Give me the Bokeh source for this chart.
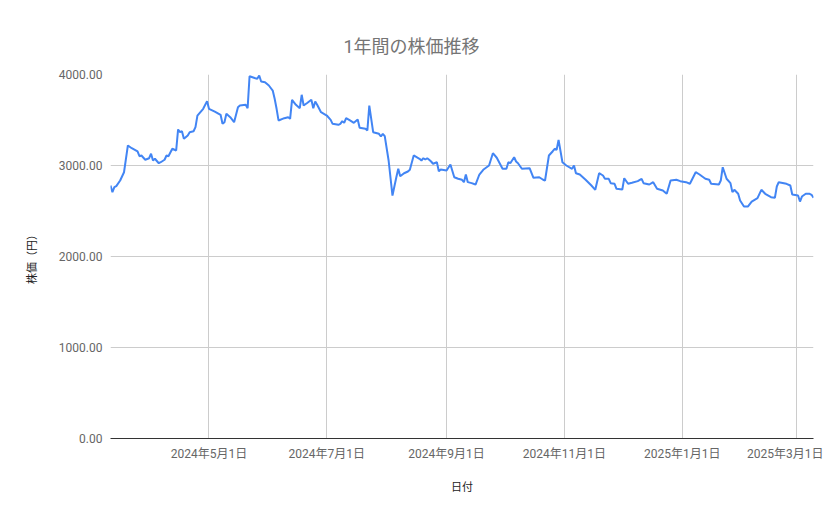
from datetime import datetime, timedelta
from bokeh.plotting import figure
from bokeh.models import Range1d, FixedTicker, NumeralTickFormatter
from bokeh.embed import file_html
from bokeh.resources import INLINE

start_date = datetime(2024, 3, 11)

# days after start_date
day_offsets = [0, 1, 2, 3, 5, 7, 9, 11, 14, 15, 16, 18, 20, 21, 22, 23, 25, 26, 28, 29,
               30, 32, 34, 35, 36, 37, 38, 40, 41, 43, 44, 45, 48, 50, 51, 54, 57, 58, 59, 60,
               62, 64, 66, 67, 70, 71, 72, 75, 76, 77, 78, 80, 82, 84, 85, 86, 87, 90, 92, 93,
               94, 96, 98, 99, 100, 102, 104, 105, 106, 107, 109, 112, 114, 115, 118,
               119, 120, 121, 122, 124, 126, 128, 129, 132, 133, 134, 136, 139, 140, 141, 142, 144, 146, 148, 149,
               150, 152, 154, 155, 157, 160, 161, 162, 163, 164, 165, 166, 167, 169, 170, 171, 174, 176,
               178, 180, 182, 183, 184, 185, 187, 189, 191, 193, 196, 198, 200, 203, 205, 206, 207, 209, 210, 211,
               213, 217, 219, 222, 224, 225, 227, 229, 230, 231, 232, 234, 236, 239,
               240, 241, 243, 246, 249, 251, 253, 255, 256, 258, 259, 261, 262, 265, 266, 268, 270, 273, 275, 276,
               279, 281, 283, 286, 288, 290, 293, 295, 298, 300, 303,
               305, 308, 310, 311, 315, 316, 317, 319, 321, 322, 323, 325, 326, 328, 330, 332, 335, 337, 339, 342,
               344, 345, 346, 350, 352, 353, 356, 357, 358, 360, 362, 363, 364]

prices = [2780, 2707, 2762, 2773, 2835, 2926, 3220, 3190, 3154, 3102, 3110, 3063, 3080, 3129, 3055, 3074, 3025, 3036, 3063, 3110,
          3102, 3184, 3165, 3396, 3366, 3377, 3293, 3330, 3366, 3377, 3421, 3549, 3623, 3707, 3623, 3593, 3557, 3458, 3476, 3568,
          3531, 3476, 3641, 3659, 3667, 3630, 3981, 3959, 3953, 3989, 3923, 3915, 3879, 3824, 3733, 3623, 3495, 3520, 3531, 3513,
          3722, 3667, 3630, 3777, 3659, 3689, 3722, 3630, 3703, 3667, 3586, 3549, 3502, 3458, 3447,
          3458, 3487, 3469, 3520, 3495, 3469, 3505, 3414, 3403, 3385, 3659, 3366, 3348, 3319, 3348, 3322, 3055, 2670, 2871, 2964,
          2882, 2915, 2934, 2953, 3110, 3074, 3055, 3080, 3066, 3080, 3063, 3044, 3019, 3036, 2937, 2956, 2945, 3011,
          2871, 2854, 2843, 2817, 2901, 2817, 2806, 2791, 2901, 2953, 3000, 3135, 3085, 2964, 2964, 3036, 3025, 3091, 3044, 3025,
          2964, 2970, 2865, 2871, 2843, 2835, 3110, 3157, 3184, 3173, 3282, 3036, 3000, 2964,
          3000, 2915, 2901, 2843, 2780, 2733, 2915, 2890, 2854, 2854, 2806, 2799, 2744, 2736, 2860, 2799, 2810, 2828, 2854, 2806,
          2791, 2817, 2744, 2725, 2689, 2835, 2843, 2828, 2817, 2799, 2926,
          2901, 2854, 2843, 2799, 2791, 2835, 2981, 2854, 2806, 2707, 2733, 2689, 2615, 2549, 2549, 2604, 2641, 2733, 2689, 2652,
          2645, 2769, 2817, 2799, 2780, 2681, 2670, 2604, 2659, 2689, 2689, 2678, 2645]

tick_dates = [datetime(2024, 5, 1), datetime(2024, 7, 1), datetime(2024, 9, 1),
              datetime(2024, 11, 1), datetime(2025, 1, 1), datetime(2025, 3, 1)]
tick_labels = ["2024年5月1日", "2024年7月1日", "2024年9月1日",
               "2024年11月1日", "2025年1月1日", "2025年3月1日"]
y_ticks = [0, 1000, 2000, 3000, 4000]

FONT = "Roboto, Noto Sans CJK JP"

dates = [start_date + timedelta(days=d) for d in day_offsets]

p = figure(frame_width=703, frame_height=364, x_axis_type="datetime",
           x_range=Range1d(dates[0], dates[-1]), y_range=Range1d(0, 4000),
           output_backend="svg", toolbar_location=None,
           min_border_left=110, min_border_right=10, min_border_top=74, min_border_bottom=65)
p.outline_line_color = None

p.title.text = "1年間の株価推移"
p.title.text_font = FONT
p.title.text_font_size = "18px"
p.title.text_font_style = "normal"
p.title.text_color = "#757575"
p.title.align = "left"
p.title.offset = 233
p.title.standoff = 35

p.line(dates, prices, line_color="#4285F4", line_width=2)

tick_ms = [(t - datetime(1970, 1, 1)).total_seconds() * 1000 for t in tick_dates]
p.xaxis.ticker = FixedTicker(ticks=tick_ms)
p.xaxis.major_label_overrides = {t: l for t, l in zip(tick_ms, tick_labels)}
p.yaxis.ticker = FixedTicker(ticks=y_ticks)
p.yaxis.formatter = NumeralTickFormatter(format="0.00")

p.xaxis.axis_label = "日付"
p.yaxis.axis_label = "株価（円）"

for ax in [p.xaxis, p.yaxis]:
    ax.major_tick_line_color = None
    ax.minor_tick_line_color = None
    ax.major_label_text_font = FONT
    ax.major_label_text_font_size = "12px"
    ax.major_label_text_color = "#666666"
    ax.axis_label_text_font = FONT
    ax.axis_label_text_font_size = "11px"
    ax.axis_label_text_font_style = "normal"
    ax.axis_label_text_color = "#222222"

p.xaxis.axis_line_color = "#333333"
p.yaxis.axis_line_color = None
p.xaxis.major_label_standoff = 2
p.xaxis.axis_label_standoff = 17
p.yaxis.major_label_standoff = 2
p.yaxis.axis_label_standoff = 17

p.xgrid.grid_line_color = "#cccccc"
p.ygrid.grid_line_color = "#cccccc"

open("out.html", "w").write(file_html(p, INLINE))
